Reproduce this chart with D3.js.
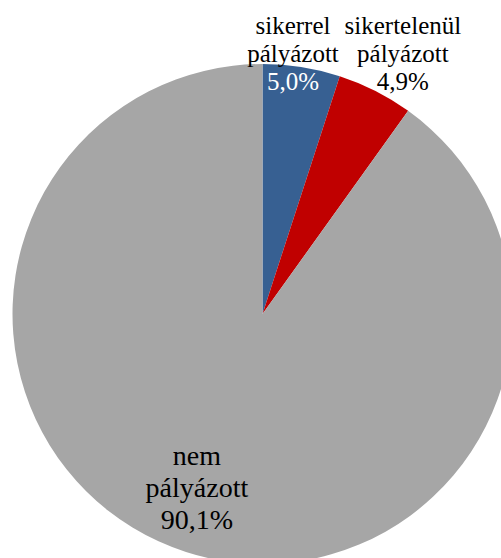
<!DOCTYPE html>
<html>
<head>
<meta charset="utf-8">
<script src="https://cdn.jsdelivr.net/npm/d3@7"></script>
<style>
  html, body { margin: 0; padding: 0; background: #fff; overflow: hidden; }
  svg { display: block; }
  .label text { font-family: "Liberation Serif", "Times New Roman", Times, serif; }
</style>
</head>
<body>
<svg id="chart" width="501" height="558"></svg>
<script>
// ---- data ----
const categories = ["sikerrel pályázott", "sikertelenül pályázott", "nem pályázott"];
const labelLines = [["sikerrel", "pályázott"], ["sikertelenül", "pályázott"], ["nem", "pályázott"]];
const values = [5.0, 4.9, 90.1];
const percentLabels = ["5,0%", "4,9%", "90,1%"];
const colors = ["#376092", "#C00000", "#A6A6A6"];

// ---- layout ----
const W = 501, H = 558;
const cx = 262.5, cy = 314, R = 250;
// label anchor (middle line baseline) in polar terms relative to slice mid-angle
const labelLayout = [
  { rf: 1.015, dAng: -2.1, size: 25, lh: 27.8, pctColor: "#fff" },
  { rf: 1.154, dAng: 2.3, size: 25, lh: 27.8, pctColor: "#000" },
  { rf: 0.778, dAng: 1.9, size: 28, lh: 32.2, pctColor: "#000" }
];

const svg = d3.select("#chart");
const g = svg.append("g").attr("transform", `translate(${cx},${cy})`);

const pie = d3.pie().sort(null).value(d => d)(values);
const arc = d3.arc().innerRadius(0).outerRadius(R);

g.selectAll("path.slice")
  .data(pie)
  .join("path")
  .attr("class", "slice")
  .attr("d", arc)
  .attr("fill", (d, i) => colors[i]);

g.selectAll("g.label")
  .data(pie)
  .join("g")
  .attr("class", "label")
  .each(function (d, i) {
    const L = labelLayout[i];
    const mid = (d.startAngle + d.endAngle) / 2 + L.dAng * Math.PI / 180;
    const r = R * L.rf;
    const x = r * Math.sin(mid);
    const y = -r * Math.cos(mid);
    const lines = labelLines[i].concat([percentLabels[i]]);
    const t = d3.select(this).append("text")
      .attr("text-anchor", "middle")
      .style("font-size", L.size + "px");
    lines.forEach((ln, k) => {
      t.append("tspan")
        .attr("x", x)
        .attr("y", y + (k - 1) * L.lh)
        .attr("fill", k === 2 ? L.pctColor : "#000")
        .text(ln);
    });
  });
</script>
</body>
</html>
